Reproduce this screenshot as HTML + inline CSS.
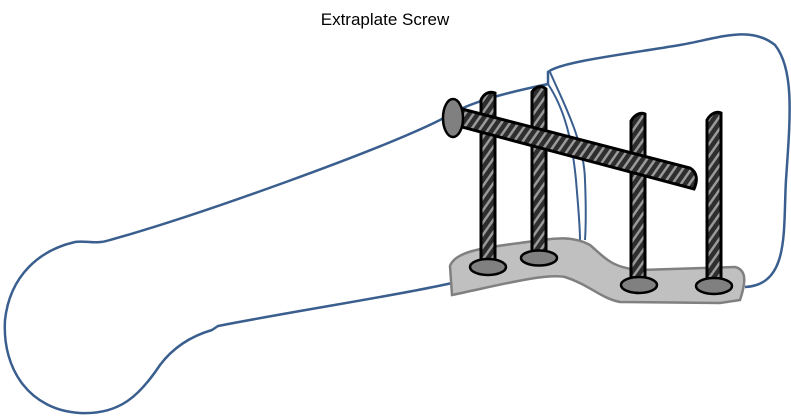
<!DOCTYPE html>
<html><head><style>html,body{margin:0;padding:0;background:#fff}svg{display:block}</style></head><body>
<svg width="791" height="417" viewBox="0 0 791 417" xmlns="http://www.w3.org/2000/svg">
<defs>
<pattern id="th" patternUnits="userSpaceOnUse" width="7" height="7" patternTransform="rotate(35)">
<rect width="7" height="7" fill="#2e2e2e"/><rect x="4" width="2.5" height="7" fill="#9a9a9a"/>
</pattern>
</defs>
<text x="385" y="25" font-family="Liberation Sans, sans-serif" font-size="17" text-anchor="middle" fill="#000">Extraplate Screw</text>
<g fill="none" stroke="#3a5f8f" stroke-width="2.5">
<path d="M548,84 C520,90 470,100 440,120 C380,150 200,215 110,240 C95,245 85,240 75,242 C40,250 10,275 5,320 C2,370 30,410 80,413 C120,415 140,395 160,365 C175,345 195,335 212,330 L218,326 C300,310 400,295 452,283"/>
<path d="M548,84 L548,72 C560,62 620,55 680,45 C720,38 750,25 775,45 C795,70 790,120 786,180 C783,230 790,285 745,287"/>
<path d="M548,84 C565,110 572,140 576,180 C578,205 580,225 580,240" stroke-width="2"/>
<path d="M550,72 C562,100 584,140 585,180 C586,205 586,225 585,240" stroke-width="2"/>
</g>
<path d="M452,295 L450,266 C455,252 480,248 520,243 C550,239 570,234 590,245 C605,258 612,268 640,270 L735,267 C748,270 745,285 740,300 L720,303 L620,302 C600,298 590,285 565,277 C545,273 500,285 452,295 Z" fill="#c0c0c0" stroke="#808080" stroke-width="2.5"/>
<g stroke="#000" stroke-width="3">
<path d="M481,262 L481,100 C484,93 490,91 495,93 L495,262 Z" fill="url(#th)"/>
<path d="M532,255 L532,92 C536,86 542,85 546,89 L546,255 Z" fill="url(#th)"/>
<path d="M631,282 L631,121 C635,114 641,112 645,114 L645,282 Z" fill="url(#th)"/>
<path d="M707,282 L707,120 C711,113 717,111 721,113 L721,282 Z" fill="url(#th)"/>
<ellipse cx="488" cy="267" rx="18" ry="8" fill="#808080" stroke-width="2.5"/>
<ellipse cx="539" cy="258" rx="18" ry="7.5" fill="#808080" stroke-width="2.5"/>
<ellipse cx="639" cy="285" rx="18" ry="8" fill="#808080" stroke-width="2.5"/>
<ellipse cx="714" cy="286" rx="18" ry="8" fill="#808080" stroke-width="2.5"/>
<path d="M462,109 L690,168 C697,172 698,180 694,189 L462,127 Z" fill="url(#th)"/>
<ellipse cx="453" cy="118" rx="10" ry="19" fill="#808080" stroke-width="2.5"/>
</g>
</svg>
</body></html>
